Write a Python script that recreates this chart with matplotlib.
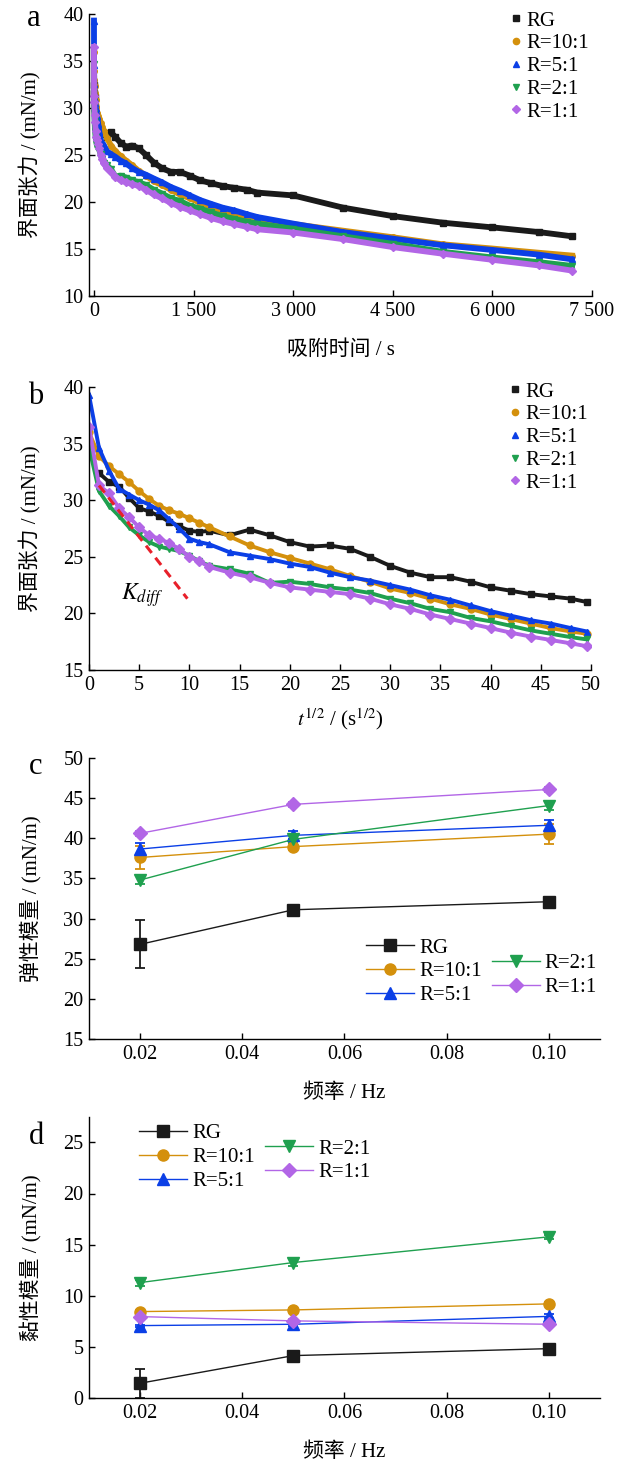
import numpy as np
import matplotlib.pyplot as plt
from matplotlib.lines import Line2D
from matplotlib.ticker import FuncFormatter, MultipleLocator

plt.rcParams['font.family'] = ['Liberation Serif', 'Noto Sans CJK SC']
plt.rcParams['mathtext.fontset'] = 'stix'
plt.rcParams['axes.unicode_minus'] = False
plt.rcParams['axes.linewidth'] = 1.0

labels = ['RG', 'R=10:1', 'R=5:1', 'R=2:1', 'R=1:1']
colors = ['#1a1a1a', '#d4900c', '#0b3fe6', '#1fa04f', '#b266e6']
markers = ['s', 'o', '^', 'v', 'D']

# interfacial tension (mN/m) vs t^(1/2) (s^(1/2)), first 2500 s
rt = [0, 1, 2, 3, 4, 5, 6, 7, 8, 9, 10, 11, 12, 14, 16, 18, 20, 22, 24, 26,
      28, 30, 32, 34, 36, 38, 40, 42, 44, 46, 48, 49.6]
rg_rt = [np.nan, 32.4, 31.6, 31.2, 30.2, 29.3, 29.0, 28.6, 28.1, 27.7, 27.3,
         27.2, 27.3, 26.9, 27.4, 26.9, 26.3, 25.9, 26.0, 25.7, 25.0, 24.2,
         23.6, 23.2, 23.2, 22.8, 22.3, 22.0, 21.7, 21.5, 21.3, 21.0]
r10_rt = [36.0, 33.9, 33.0, 32.3, 31.6, 30.8, 30.1, 29.5, 29.1, 28.8, 28.4,
          28.0, 27.6, 26.8, 26.0, 25.4, 24.9, 24.4, 23.9, 23.3, 22.8, 22.2,
          21.8, 21.3, 20.8, 20.4, 19.9, 19.5, 19.1, 18.7, 18.4, 18.2]
r5_rt = [39.3, 34.6, 32.6, 31.0, 30.5, 30.0, 29.6, 29.1, 28.3, 27.5, 26.6,
         26.3, 26.1, 25.4, 25.1, 24.8, 24.4, 24.1, 23.6, 23.2, 22.9, 22.5,
         22.1, 21.6, 21.2, 20.7, 20.2, 19.8, 19.4, 19.1, 18.7, 18.4]
r2_rt = [34.7, 30.8, 29.5, 28.6, 27.6, 26.9, 26.3, 25.9, 25.7, 25.5, 25.1,
         24.6, 24.2, 23.9, 23.5, 22.7, 22.8, 22.6, 22.3, 22.1, 21.8, 21.3,
         20.9, 20.4, 20.1, 19.6, 19.3, 18.9, 18.5, 18.2, 17.9, 17.7]
r1_rt = [36.5, 31.3, 30.6, 29.3, 28.5, 27.6, 26.9, 26.6, 26.2, 25.7, 25.0,
         24.6, 24.1, 23.6, 23.2, 22.7, 22.3, 22.1, 21.9, 21.7, 21.3, 20.8,
         20.4, 19.9, 19.5, 19.1, 18.7, 18.3, 17.95, 17.65, 17.35, 17.1]

# later part of the adsorption (s)
t_late = [3000, 3750, 4500, 5250, 6000, 6700, 7200]
rg_late = [20.7, 19.4, 18.5, 17.8, 17.3, 16.8, 16.35]
r10_late = [17.65, 16.95, 16.25, 15.5, 15.05, 14.6, 14.3]
r5_late = [17.7, 16.8, 16.1, 15.4, 14.9, 14.4, 13.9]
r2_late = [17.15, 16.35, 15.55, 14.7, 14.1, 13.6, 13.2]
r1_late = [16.75, 16.05, 15.2, 14.5, 13.85, 13.25, 12.7]

# diffusion-controlled slope
kdiff_rt = [1.0, 9.8]
kdiff_gamma = [31.3, 21.3]

# dilational modulus vs frequency
freq = [0.02, 0.05, 0.10]
e_rg = [26.8, 31.1, 32.1]
e_r10 = [37.6, 38.95, 40.5]
e_r5 = [38.65, 40.35, 41.6]
e_r2 = [34.8, 39.85, 44.05]
e_r1 = [40.6, 44.2, 46.05]
e_rg_err = [3.0, 0.3, 0.3]
e_r10_err = [1.4, 0.4, 1.2]
e_r5_err = [0.75, 0.5, 0.6]
e_r2_err = [0.5, 0.5, 0.5]
e_r1_err = [0.3, 0.3, 0.3]

v_rg = [1.47, 4.17, 4.85]
v_r10 = [8.47, 8.63, 9.22]
v_r5 = [7.1, 7.23, 8.0]
v_r2 = [11.3, 13.26, 15.77]
v_r1 = [7.98, 7.56, 7.23]
v_rg_err = [1.4, 0.3, 0.2]
v_r10_err = [0.2, 0.2, 0.2]
v_r5_err = [0.1, 0.2, 0.2]
v_r2_err = [0.3, 0.3, 0.2]
v_r1_err = [0.2, 0.2, 0.2]

early = [rg_rt, r10_rt, r5_rt, r2_rt, r1_rt]
late = [rg_late, r10_late, r5_late, r2_late, r1_late]
elast = [e_rg, e_r10, e_r5, e_r2, e_r1]
elast_err = [e_rg_err, e_r10_err, e_r5_err, e_r2_err, e_r1_err]
visc = [v_rg, v_r10, v_r5, v_r2, v_r1]
visc_err = [v_rg_err, v_r10_err, v_r5_err, v_r2_err, v_r1_err]

W, H = 620, 1463
fig = plt.figure(figsize=(W / 100, H / 100), dpi=100)


def box(l, t, r, b):
    return [l / W, 1 - b / H, (r - l) / W, (b - t) / H]


def style(ax):
    for s in ['top', 'right']:
        ax.spines[s].set_visible(False)
    ax.tick_params(direction='in', length=4, width=1, labelsize=14.5, pad=4)


ax_a = fig.add_axes(box(89, 14, 592, 296))
ax_b = fig.add_axes(box(89, 387, 591, 670))
ax_c = fig.add_axes(box(89, 757.7, 600, 1039.3))
ax_d = fig.add_axes(box(89, 1116.7, 600, 1398.3))
for ax in [ax_a, ax_b, ax_c, ax_d]:
    style(ax)

rt_arr = np.array(rt)
for i in range(5):
    t = np.concatenate([rt_arr ** 2, t_late])
    g = np.concatenate([early[i], late[i]])
    ax_a.plot(t, g, color=colors[i], lw=4.2, marker=markers[i], ms=4,
              mec=colors[i], clip_on=False)
    ax_b.plot(rt_arr, early[i], color=colors[i], lw=2.8, marker=markers[i],
              ms=5, mec=colors[i])

ax_b.plot(kdiff_rt, kdiff_gamma, color='#e8202a', lw=2.2, ls=(0, (3, 2)))
ax_b.text(5.3, 21.6, '$K_{diff}$', fontsize=17, ha='center', va='center')

ax_a.set_xlim(-75, 7500)
ax_a.set_ylim(10, 40)
ax_a.set_xticks([0, 1500, 3000, 4500, 6000, 7500])
ax_a.xaxis.set_major_formatter(
    FuncFormatter(lambda v, p: '{:,}'.format(int(v)).replace(',', ' ')))
ax_a.yaxis.set_major_locator(MultipleLocator(5))
ax_a.set_xlabel('吸附时间 / s', fontsize=15)
ax_a.set_ylabel('界面张力 / (mN/m)', fontsize=15)
ax_a.xaxis.set_label_coords(0.5, -0.191)
ax_a.yaxis.set_label_coords(-0.117, 0.5)

ax_b.set_xlim(0, 50)
ax_b.set_ylim(15, 40)
ax_b.xaxis.set_major_locator(MultipleLocator(5))
ax_b.yaxis.set_major_locator(MultipleLocator(5))
ax_b.set_xlabel('$t^{1/2}$ / (s$^{1/2}$)', fontsize=15)
ax_b.set_ylabel('界面张力 / (mN/m)', fontsize=15)
ax_b.xaxis.set_label_coords(0.5, -0.172)
ax_b.yaxis.set_label_coords(-0.117, 0.5)

marker_handles = [Line2D([], [], ls='none', marker=markers[i], ms=4.5,
                         color=colors[i]) for i in range(5)]
for ax, yy in [(ax_a, 1.01), (ax_b, 1.017)]:
    ax.legend(marker_handles, labels, loc='upper right', frameon=False,
              fontsize=15, handlelength=0.5, handletextpad=0.25,
              labelspacing=0.15, borderpad=0, borderaxespad=0,
              bbox_to_anchor=(0.995, yy))

for ax, vals, errs in [(ax_c, elast, elast_err), (ax_d, visc, visc_err)]:
    lines = []
    for i in range(5):
        ms = 7 if markers[i] == 'D' else 8
        h = ax.errorbar(freq, vals[i], yerr=errs[i], color=colors[i],
                        marker=markers[i], ms=ms, mec=colors[i], lw=1,
                        elinewidth=1.3, capsize=3.5, capthick=1.3,
                        label=labels[i])
        lines.append(h.lines[0])
    ax.set_xlim(0.01, 0.11)
    ax.set_xticks([0.02, 0.04, 0.06, 0.08, 0.10])
    ax.xaxis.set_major_formatter(FuncFormatter(lambda v, p: '%.2f' % v))
    ax.yaxis.set_major_locator(MultipleLocator(5))
    ax.set_xlabel('频率 / Hz', fontsize=15)
    ax.xaxis.set_label_coords(0.5, -0.19)
    ax.yaxis.set_label_coords(-0.115, 0.5)
    ax.lines_for_legend = lines

ax_c.set_ylim(15, 50)
ax_c.set_ylabel('弹性模量 / (mN/m)', fontsize=15)
ax_d.set_ylim(0, 27.5)
ax_d.set_ylabel('黏性模量 / (mN/m)', fontsize=15)
for ax in [ax_a, ax_b, ax_c, ax_d]:
    ax.xaxis.label.set_va('center')
    ax.yaxis.label.set_va('center')

leg_kw = dict(frameon=False, fontsize=15, handlelength=2.3,
              handletextpad=0.25, labelspacing=0.2, borderpad=0,
              borderaxespad=0, loc='upper left')
for ax, p1, p2 in [(ax_c, (0.542, 0.36), (0.788, 0.304)),
                   (ax_d, (0.098, 0.975), (0.344, 0.921))]:
    ln = ax.lines_for_legend
    leg1 = ax.legend(ln[:3], labels[:3], bbox_to_anchor=p1, **leg_kw)
    ax.add_artist(leg1)
    ax.legend(ln[3:], labels[3:], bbox_to_anchor=p2, **leg_kw)

for letter, x, y in [('a', 34, 18), ('b', 36, 397), ('c', 36, 767),
                     ('d', 36, 1137)]:
    fig.text(x / W, 1 - y / H, letter, fontsize=22, ha='center', va='center')

fig.savefig('out.png', dpi=100)
